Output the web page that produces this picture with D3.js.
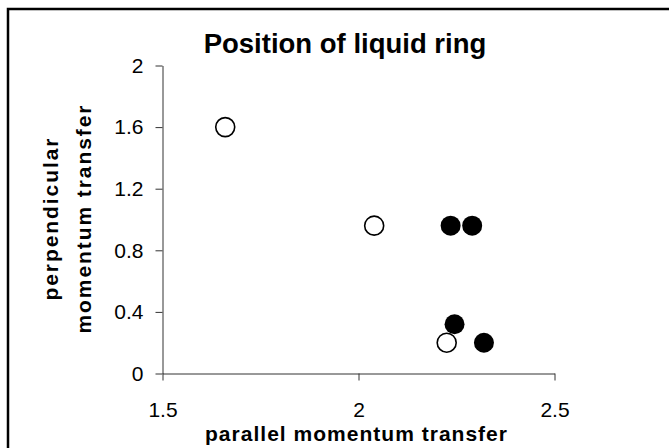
<!DOCTYPE html>
<html>
<head>
<meta charset="utf-8">
<script src="https://cdn.jsdelivr.net/npm/d3@7"></script>
<style>
  html, body { margin: 0; padding: 0; background: #fff; }
  svg { display: block; font-family: "Liberation Sans", Arial, sans-serif; }
</style>
</head>
<body>
<svg id="chart" width="669" height="448"></svg>
<script>
// ---- data ----
const openX   = [1.66, 2.04, 2.225];
const openY   = [1.60, 0.96, 0.20];
const filledX = [2.235, 2.29, 2.245, 2.32];
const filledY = [0.96, 0.96, 0.32, 0.20];
const xTicks  = [1.5, 2, 2.5];
const yTicks  = [0, 0.4, 0.8, 1.2, 1.6, 2];
const title   = "Position of liquid ring";
const xTitle  = "parallel momentum transfer";
const yTitle  = ["perpendicular", "momentum transfer"];

const svg = d3.select("#chart");

// outer frame (extends beyond the visible area on right/bottom)
svg.append("rect")
  .attr("x", 8).attr("y", 9).attr("width", 720).attr("height", 500)
  .attr("fill", "none").attr("stroke", "#000").attr("stroke-width", 2.5);

const x = d3.scaleLinear().domain([1.5, 2.5]).range([162.5, 554.5]);
const y = d3.scaleLinear().domain([0, 2]).range([373.5, 65.5]);

// y axis
const gy = svg.append("g").attr("transform", "translate(162.5,0)")
  .call(d3.axisLeft(y).tickValues(yTicks).tickFormat(d3.format("~g"))
        .tickSize(7).tickSizeOuter(0).tickPadding(12));
// x axis
const gx = svg.append("g").attr("transform", "translate(0,373.5)")
  .call(d3.axisBottom(x).tickValues(xTicks).tickFormat(d3.format("~g"))
        .tickSize(7).tickSizeOuter(0).tickPadding(22));

[gx, gy].forEach(g => {
  g.select(".domain").attr("stroke", "#333").attr("stroke-width", 1);
  g.selectAll(".tick line").attr("stroke", "#333").attr("stroke-width", 1);
  g.selectAll(".tick text").attr("fill", "#000")
    .style("font-size", "21px").style("font-family", "'Liberation Sans', Arial, sans-serif");
});

// points
svg.append("g").selectAll("circle.open")
  .data(openX.map((d, i) => [d, openY[i]]))
  .join("circle")
  .attr("cx", d => x(d[0])).attr("cy", d => y(d[1])).attr("r", 9.5)
  .attr("fill", "#fff").attr("stroke", "#000").attr("stroke-width", 1.6);

svg.append("g").selectAll("circle.filled")
  .data(filledX.map((d, i) => [d, filledY[i]]))
  .join("circle")
  .attr("cx", d => x(d[0])).attr("cy", d => y(d[1])).attr("r", 10)
  .attr("fill", "#000");

// title
svg.append("text")
  .attr("x", 345).attr("y", 53).attr("text-anchor", "middle")
  .style("font-size", "27.5px").style("font-weight", "bold")
  .text(title);

// x title
svg.append("text")
  .attr("x", 205).attr("y", 441)
  .attr("textLength", 302).attr("lengthAdjust", "spacing")
  .style("font-size", "21px").style("font-weight", "bold")
  .text(xTitle);

// y title (two lines)
const yLens = [162, 228];
const yXs = [58, 91];
yTitle.forEach((t, i) => {
  svg.append("text")
    .attr("transform", `translate(${yXs[i]},${219.5}) rotate(-90)`)
    .attr("x", -yLens[i] / 2).attr("y", 0)
    .attr("textLength", yLens[i]).attr("lengthAdjust", "spacing")
    .style("font-size", "21px").style("font-weight", "bold")
    .text(t);
});
</script>
</body>
</html>
